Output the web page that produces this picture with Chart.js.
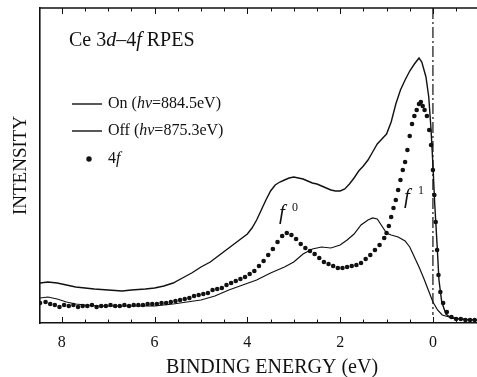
<!DOCTYPE html>
<html>
<head>
<meta charset="utf-8">
<script src="https://cdn.jsdelivr.net/npm/chart.js@4/dist/chart.umd.min.js"></script>
<style>
  html, body { margin: 0; padding: 0; background: #fff; }
  canvas { display: block; }
</style>
</head>
<body>
<canvas id="rpes" width="477" height="377"></canvas>
<script>
// binding energy (eV) and intensity (arb. units)
const tickLabels = [8, 6, 4, 2, 0];

const energyOn = [8.47, 8.3, 8.1, 7.9, 7.7, 7.5, 7.3, 7.0, 6.7, 6.5, 6.2, 6.0, 5.8, 5.6, 5.4, 5.2, 5.0, 4.8, 4.6, 4.4,
  4.2, 4.0, 3.9, 3.8, 3.7, 3.6, 3.5, 3.4, 3.3, 3.2, 3.1, 3.0, 2.9, 2.8, 2.7, 2.6, 2.5, 2.4, 2.3, 2.2,
  2.1, 2.0, 1.9, 1.8, 1.7, 1.6, 1.5, 1.4, 1.3, 1.2, 1.1, 1.0, 0.9, 0.8, 0.7, 0.6, 0.5, 0.4, 0.3, 0.24,
  0.15, 0.09, 0.04, 0.0, -0.04, -0.09, -0.13, -0.19, -0.28, -0.39, -0.6, -0.8, -0.95];
const intensityOn = [40, 41, 40, 38, 36, 35, 34, 33, 32, 33, 34, 35, 37, 40, 45, 50, 56, 61, 68, 75,
  82, 89, 95, 103, 113, 123, 132, 138, 141, 143, 145, 146, 145, 144, 142, 140, 139, 137, 135, 133,
  132, 132, 134, 139, 145, 152, 157, 163, 171, 179, 184, 189, 201, 219, 233, 243, 252, 259, 265, 261,
  246, 226, 193, 158, 118, 78, 43, 21, 9, 5, 4, 3, 3];

const energyOff = [8.47, 8.3, 8.1, 7.9, 7.7, 7.5, 7.2, 7.0, 6.5, 6.0, 5.6, 5.3, 5.0, 4.7, 4.4, 4.1, 3.8, 3.5, 3.2, 3.0,
  2.8, 2.6, 2.4, 2.2, 2.0, 1.85, 1.7, 1.55, 1.4, 1.3, 1.2, 1.1, 1.0, 0.9, 0.75, 0.6, 0.5, 0.4, 0.3, 0.2,
  0.1, 0.0, -0.1, -0.2, -0.35, -0.6, -0.95];
const intensityOff = [25, 26, 24, 21, 19, 18, 17, 17, 17, 17, 19, 21, 23, 27, 33, 38, 43, 50, 56, 61,
  69, 74, 76, 75, 78, 83, 89, 98, 103, 105, 104, 97, 90, 88, 86, 82, 76, 66, 56, 45,
  33, 21, 13, 8, 6, 4, 3];

const energy4f = [8.47, 8.35, 8.25, 8.15, 8.05, 7.95, 7.85, 7.75, 7.65, 7.55, 7.45, 7.35, 7.25, 7.15, 7.05, 6.95, 6.85, 6.75, 6.65, 6.55,
  6.45, 6.35, 6.25, 6.15, 6.05, 5.95, 5.85, 5.75, 5.65, 5.55, 5.45, 5.35, 5.25, 5.15, 5.05, 4.95, 4.85, 4.75, 4.65, 4.55,
  4.45, 4.35, 4.25, 4.15, 4.05, 3.95, 3.85, 3.75, 3.65, 3.55, 3.45, 3.35, 3.25, 3.15, 3.05, 2.95, 2.85, 2.75, 2.65, 2.55,
  2.45, 2.35, 2.25, 2.15, 2.05, 1.95, 1.85, 1.75, 1.65, 1.55, 1.45, 1.35, 1.25, 1.15, 1.05, 1.0, 0.95, 0.9, 0.85, 0.8,
  0.75, 0.7, 0.65, 0.6, 0.55, 0.5, 0.45, 0.4, 0.35, 0.3, 0.26, 0.22, 0.18, 0.13, 0.08, 0.04, 0.0, -0.03, -0.06, -0.09,
  -0.12, -0.16, -0.22, -0.3, -0.4, -0.5, -0.6, -0.7, -0.8, -0.9];
const intensity4f = [20, 21, 19, 18, 16, 18, 17, 18, 16, 17, 17, 18, 16, 17, 17, 18, 17, 17, 18, 17,
  18, 18, 18, 19, 19, 19, 20, 20, 21, 22, 23, 24, 25, 27, 28, 29, 30, 33, 34, 35,
  38, 40, 42, 44, 46, 49, 52, 57, 62, 68, 74, 81, 87, 90, 88, 84, 79, 75, 72, 69,
  65, 61, 59, 57, 55, 55, 56, 57, 58, 60, 64, 68, 73, 78, 85, 90, 97, 106, 115, 123,
  133, 143, 153, 161, 173, 187, 199, 207, 213, 219, 221, 217, 213, 207, 193, 178, 153, 128, 101, 73,
  48, 31, 20, 11, 6, 4, 4, 3, 3, 3];

const pts = (xs, ys) => xs.map((x, i) => ({ x: x, y: ys[i] }));

const SERIF = '"Liberation Serif", "Times New Roman", serif';
const INK = '#111';

// writes a row of text pieces, some of them italic
function runs(ctx, x, y, parts, size) {
  parts.forEach(p => {
    ctx.font = (p[1] ? 'italic ' : '') + size + 'px ' + SERIF;
    ctx.fillText(p[0], x, y);
    x += ctx.measureText(p[0]).width;
  });
}

const decor = {
  id: 'decor',
  afterDraw(chart) {
    const { ctx, chartArea: a, scales: { x } } = chart;
    ctx.save();
    ctx.strokeStyle = INK;
    ctx.fillStyle = INK;

    // top frame line
    ctx.lineWidth = 1.6;
    ctx.beginPath();
    ctx.moveTo(a.left, a.top);
    ctx.lineTo(a.right, a.top);
    ctx.stroke();

    // inward ticks every 0.5 eV, top and bottom
    ctx.lineWidth = 1;
    for (let v = 8; v >= -0.5; v -= 0.5) {
      const px = Math.round(x.getPixelForValue(v)) + 0.5;
      const len = Math.abs(v % 2) < 1e-6 ? 6 : 3.5;
      ctx.beginPath();
      ctx.moveTo(px, a.bottom);
      ctx.lineTo(px, a.bottom - len);
      ctx.moveTo(px, a.top);
      ctx.lineTo(px, a.top + len);
      ctx.stroke();
    }

    // Fermi level, dash-dot
    const x0 = x.getPixelForValue(0);
    ctx.lineWidth = 1.2;
    ctx.setLineDash([11, 3, 2, 3]);
    ctx.beginPath();
    ctx.moveTo(x0, a.top);
    ctx.lineTo(x0, a.bottom - 8);
    ctx.stroke();
    ctx.setLineDash([]);

    // heading
    ctx.textBaseline = 'alphabetic';
    runs(ctx, 69, 46, [['Ce 3'], ['d', 1], ['\u20134'], ['f', 1], [' RPES']], 20);

    // legend
    ctx.lineWidth = 1.4;
    [104, 131].forEach(yy => {
      ctx.beginPath();
      ctx.moveTo(72, yy);
      ctx.lineTo(102, yy);
      ctx.stroke();
    });
    ctx.beginPath();
    ctx.arc(89, 159, 2.7, 0, Math.PI * 2);
    ctx.fill();
    ctx.textBaseline = 'middle';
    runs(ctx, 108, 104, [['On ('], ['h\u03bd', 1], ['=884.5eV)']], 16);
    runs(ctx, 108, 131, [['Off ('], ['h\u03bd', 1], ['=875.3eV)']], 16);
    runs(ctx, 108, 159, [['4'], ['f', 1]], 16);

    // f0 / f1 labels
    ctx.textBaseline = 'alphabetic';
    ctx.font = 'italic 21px ' + SERIF;
    ctx.fillText('f', 279, 219);
    ctx.fillText('f', 404, 203);
    ctx.font = '12px ' + SERIF;
    ctx.fillText('0', 292, 211);
    ctx.fillText('1', 418, 194);

    // axis title
    ctx.font = '20px ' + SERIF;
    ctx.textAlign = 'center';
    ctx.fillText('BINDING ENERGY (eV)', 272, 373);
    ctx.restore();
  }
};

new Chart(document.getElementById('rpes'), {
  type: 'line',
  data: {
    datasets: [
      { label: 'On (hν=884.5eV)', data: pts(energyOn, intensityOn), borderColor: INK, borderWidth: 1.4, pointRadius: 0, tension: 0 },
      { label: 'Off (hν=875.3eV)', data: pts(energyOff, intensityOff), borderColor: INK, borderWidth: 1.2, pointRadius: 0, tension: 0 },
      { label: '4f', data: pts(energy4f, intensity4f), showLine: false, pointRadius: 2.3, pointBackgroundColor: INK, pointBorderWidth: 0 }
    ]
  },
  options: {
    responsive: false,
    animation: false,
    devicePixelRatio: 1,
    layout: { autoPadding: false, padding: { top: 8, left: 0, right: 0, bottom: 0 } },
    plugins: { legend: { display: false }, tooltip: { enabled: false } },
    scales: {
      x: {
        type: 'linear',
        reverse: true,
        min: -0.95,
        max: 8.47,
        afterBuildTicks: s => { s.ticks = tickLabels.map(v => ({ value: v })); },
        afterFit: s => { s.height = 54; s.paddingLeft = 0; s.paddingRight = 0; },
        ticks: { color: INK, font: { family: SERIF, size: 16 }, padding: 10, maxRotation: 0, autoSkip: false },
        grid: { display: false, drawTicks: false },
        border: { color: INK, width: 1.6 }
      },
      y: {
        min: 0,
        max: 315,
        afterFit: s => { s.width = 40; },
        ticks: { display: false },
        grid: { display: false, drawTicks: false },
        border: { color: INK, width: 1.6 },
        title: { display: true, text: 'INTENSITY', color: INK, font: { family: SERIF, size: 19 }, padding: { top: 10, bottom: 0 } }
      }
    }
  },
  plugins: [decor]
});
</script>
</body>
</html>
